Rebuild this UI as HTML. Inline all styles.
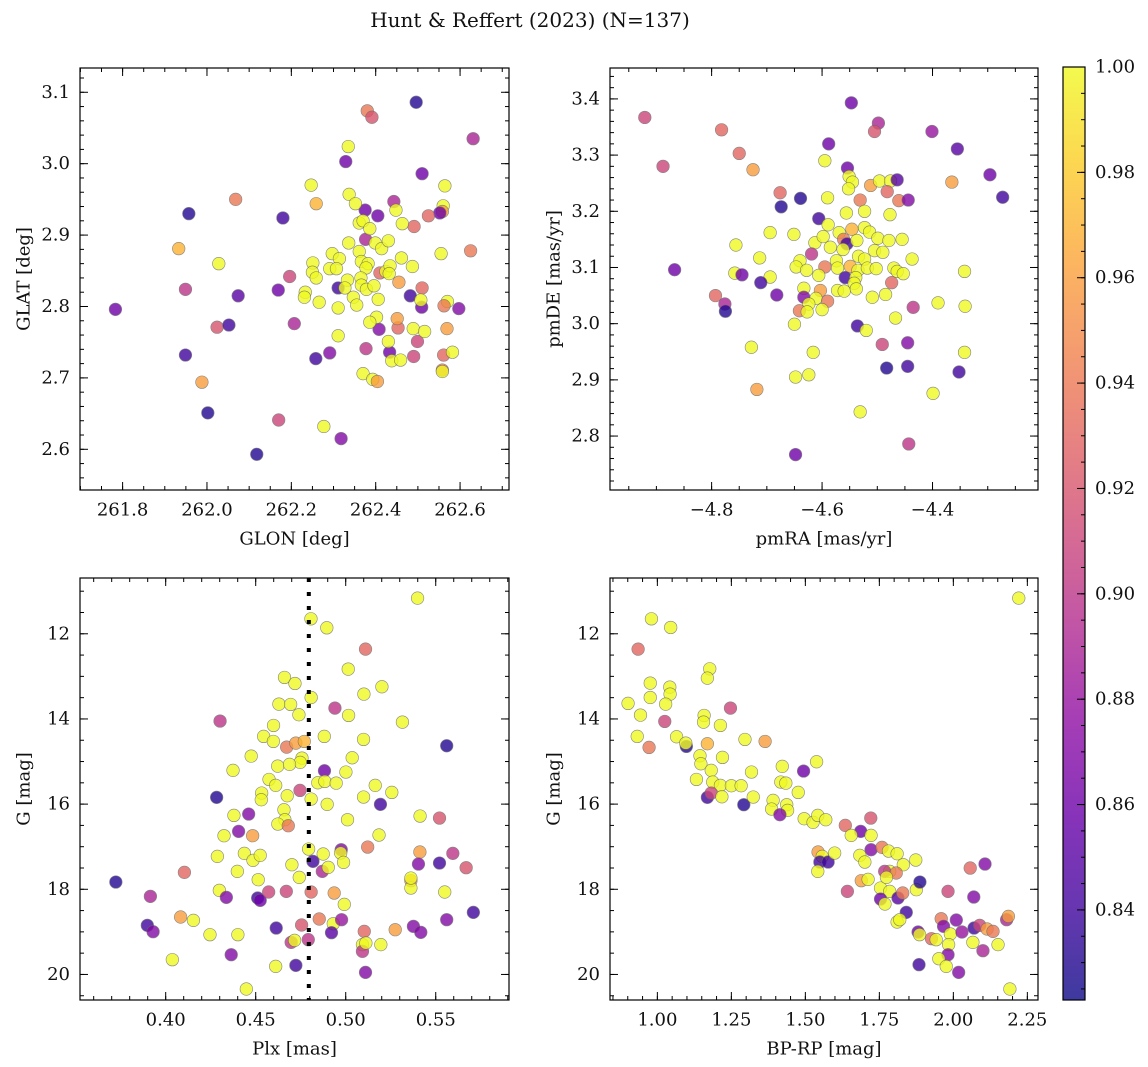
<!DOCTYPE html>
<html><head><meta charset="utf-8"><style>
html,body{margin:0;padding:0;background:#fff;}
svg{display:block;font-family:"DejaVu Serif","Liberation Serif",serif;}
</style></head><body>
<svg id="fig" width="1148" height="1067" viewBox="0 0 1148 1067" xmlns="http://www.w3.org/2000/svg">
<rect width="1148" height="1067" fill="#fff"/>
<text x="530" y="20" font-size="20" text-anchor="middle" dominant-baseline="central" fill="#111">Hunt &amp; Reffert (2023) (N=137)</text>
</svg>
<script>
// ---------- DATA ----------
const tlGlon=[261.783,261.957,261.933,261.949,262.028,262.068,262.074,262.024,262.052,261.949,261.988,262.002,262.118,262.170,262.180,262.169,262.196,262.207,262.258,262.291,262.277,262.318,262.247,262.259,262.266,262.311,262.311,262.329,262.335,262.380,262.391,262.496,262.631,262.510,262.564,262.560,262.558,262.552,262.525,262.491,262.625,262.555,262.510,262.482,262.509,262.507,262.570,262.562,262.597,262.569,262.499,262.490,262.561,262.582,262.558,262.558,262.443,262.448,262.463,262.405,262.375,262.376,262.433,262.438,262.459,262.377,262.370,262.393,262.404,262.430,262.408,262.453,262.451,262.489,262.516,262.455,262.410,262.311,
262.337,262.352,262.361,262.370,262.386,262.336,262.297,262.314,262.291,262.307,262.251,262.250,262.259,262.233,262.231,262.333,262.327,262.347,262.355,262.361,262.366,262.382,262.377,262.365,262.366,262.378,262.396,262.406,262.402,262.386,262.399,262.414,262.430,262.424,262.434,262.432,262.461,262.487];
const tlGlat=[2.796,2.930,2.881,2.824,2.860,2.950,2.815,2.771,2.774,2.732,2.694,2.651,2.593,2.641,2.924,2.823,2.842,2.776,2.727,2.735,2.632,2.615,2.970,2.944,2.806,2.798,2.759,3.003,3.024,3.074,3.065,3.086,3.035,2.986,2.969,2.941,2.933,2.931,2.927,2.912,2.878,2.874,2.826,2.815,2.799,2.809,2.807,2.801,2.797,2.769,2.751,2.730,2.732,2.736,2.711,2.709,2.947,2.935,2.916,2.927,2.935,2.894,2.736,2.724,2.725,2.741,2.706,2.698,2.695,2.751,2.768,2.770,2.783,2.769,2.765,2.834,2.847,2.826,
2.957,2.944,2.917,2.920,2.909,2.889,2.874,2.867,2.853,2.853,2.861,2.848,2.840,2.820,2.813,2.837,2.826,2.813,2.802,2.877,2.863,2.860,2.854,2.840,2.830,2.824,2.829,2.810,2.785,2.778,2.889,2.881,2.892,2.849,2.857,2.846,2.868,2.856];
const tlProb=[.86,.83,.97,.90,1,.94,.85,.92,.84,.84,.96,.83,.83,.91,.84,.86,.91,.89,.84,.87,1,.87,1,.97,1,1,1,.86,1,.94,.92,.83,.89,.86,1,1,.96,.86,.93,.93,.94,1,.93,.84,.86,1,1,.94,.87,.96,.91,.91,.93,1,.94,1,.89,1,1,.86,.86,.89,.86,1,1,.90,1,1,.96,1,.87,.93,.96,1,1,.96,.93,.84,
1,1,1,1,1,1,1,1,1,1,1,1,1,1,1,1,1,1,1,1,1,1,1,1,1,1,1,1,1,1,1,1,1,1,1,1,1,1];

const trPmra=[-4.921,-4.888,-4.867,-4.782,-4.750,-4.725,-4.676,-4.639,-4.674,-4.756,-4.713,-4.758,-4.745,-4.694,-4.694,-4.711,-4.682,-4.793,-4.776,-4.775,-4.728,-4.718,-4.651,-4.650,-4.648,-4.624,-4.616,-4.648,-4.588,-4.595,-4.590,-4.606,-4.547,-4.498,-4.505,-4.554,-4.551,-4.545,-4.552,-4.512,-4.496,-4.476,-4.464,-4.482,-4.531,-4.461,-4.444,-4.401,-4.355,-4.365,-4.296,-4.273,-4.556,-4.523,-4.477,-4.589,-4.569,-4.546,-4.523,-4.514,-4.499,-4.479,-4.455,-4.613,-4.598,-4.585,-4.561,-4.555,-4.537,-4.562,-4.619,-4.505,-4.490,-4.534,-4.523,-4.437,-4.640,-4.574,-4.647,-4.628,-4.595,-4.572,-4.549,-4.535,-4.518,-4.502,-4.470,-4.464,-4.453,-4.606,-4.558,-4.539,-4.542,-4.342,-4.633,-4.633,-4.603,-4.611,-4.590,-4.572,-4.560,-4.538,-4.624,-4.641,-4.627,-4.600,-4.509,-4.485,-4.474,-4.467,-4.435,-4.390,-4.341,-4.536,-4.520,-4.491,-4.445,-4.483,-4.445,-4.352,-4.342,-4.399,-4.531,-4.443];
const trPmde=[3.367,3.280,3.096,3.345,3.303,3.274,3.233,3.223,3.208,3.140,3.117,3.090,3.087,3.162,3.083,3.073,3.051,3.050,3.035,3.022,2.958,2.883,3.159,2.999,2.905,2.909,2.949,2.767,3.320,3.290,3.224,3.187,3.393,3.357,3.342,3.277,3.262,3.252,3.240,3.246,3.254,3.254,3.256,3.235,3.220,3.219,3.220,3.342,3.311,3.252,3.265,3.225,3.197,3.200,3.194,3.176,3.162,3.168,3.171,3.163,3.152,3.148,3.150,3.144,3.155,3.136,3.150,3.142,3.148,3.132,3.124,3.130,3.127,3.120,3.115,3.115,3.112,3.112,3.101,3.095,3.101,3.099,3.102,3.095,3.099,3.098,3.099,3.093,3.089,3.086,3.082,3.082,3.072,3.093,3.063,3.047,3.059,3.045,3.040,3.059,3.058,3.062,3.035,3.023,3.021,3.025,3.047,3.052,3.073,3.010,3.029,3.037,3.031,2.996,2.988,2.963,2.966,2.921,2.924,2.914,2.949,2.876,2.843,2.786];
const trProb=[.91,.91,.86,.93,.93,.96,.93,.83,.83,1,1,1,.86,1,1,.84,.86,.93,.89,.83,1,.96,1,1,1,1,1,.86,.86,1,1,.84,.86,.89,.92,.86,1,1,1,.96,1,1,.85,.93,.94,.94,.87,.88,.85,.96,.86,.84,1,1,1,1,1,.97,1,1,1,1,1,1,1,1,.94,.84,1,1,.90,1,1,1,1,1,1,1,1,1,.94,1,.97,1,1,1,1,1,1,1,.84,1,1,1,1,.87,.96,1,.94,1,1,1,1,.94,1,1,1,1,.93,1,.90,1,1,.84,1,.91,.87,.83,.84,.84,1,1,1,.90];

const blPlx=[.5399,.4807,.4895,.5110,.5014,.4660,.4718,.5201,.5101,.4808,.4629,.4694,.4940,.4740,.5016,.4302,.5315,.4599,.4544,.4598,.4881,.5099,.4672,.4723,.4770,.5561,.4475,.4757,.4747,.4622,.4688,.4374,.5036,.4882,.5001,.4574,.4611,.4845,.4884,.4947,.5164,.5256,.4533,.4531,.4746,.4675,.4808,.4283,.5099,.5193,.4897,.4379,.4461,.4657,.4662,.4623,.4681,.5010,.5413,.5521,.4405,.4324,.4483,.5185,.4287,.4437,.4485,.4525,.4794,.4875,.4975,.4972,.5122,.5412,.5595,.4818,.4701,.4870,.4903,.4988,.5404,.5521,.5669,.4104,.4398,.4742,.4514,.3723,.5362,.5362,.5362,.3915,.4298,.4337,.4511,.4525,.4572,.4670,.4808,.4936,.4992,.5550,.5709,.4083,.4154,.3898,.3930,.4246,.4401,.4614,.4755,.4853,.4931,.4977,.4921,.5103,.5093,.5093,.5112,.5195,.5275,.5376,.5417,.5561,.4697,.4716,.4792,.4364,.4037,.4611,.4723,.5110,.4448];
const blG=[11.163,11.648,11.859,12.360,12.829,13.025,13.166,13.244,13.416,13.495,13.651,13.659,13.745,13.901,13.917,14.050,14.074,14.152,14.410,14.528,14.410,14.481,14.661,14.567,14.528,14.629,14.872,14.919,15.020,15.107,15.067,15.208,14.911,15.216,15.247,15.420,15.560,15.498,15.467,15.506,15.560,15.725,15.740,15.897,15.678,15.803,15.881,15.842,15.834,16.006,16.006,16.265,16.233,16.132,16.366,16.468,16.507,16.366,16.280,16.327,16.640,16.742,16.742,16.726,17.227,17.157,17.321,17.204,17.055,17.172,17.071,17.149,17.008,17.125,17.157,17.344,17.423,17.579,17.485,17.368,17.407,17.384,17.493,17.603,17.579,17.720,17.775,17.830,17.798,17.971,17.736,18.166,18.025,18.190,18.205,18.260,18.064,18.049,18.064,18.088,18.354,18.064,18.542,18.651,18.730,18.847,18.996,19.066,19.066,18.910,18.839,18.698,18.808,18.714,19.019,18.988,19.300,19.457,19.262,19.300,18.949,18.870,19.011,18.714,19.246,19.199,19.183,19.536,19.653,19.810,19.786,19.951,20.342];
const blProb=[1,1,1,.93,1,1,1,1,1,1,1,1,.90,1,1,.90,1,1,1,1,1,1,.94,.96,.97,.83,1,1,1,1,1,1,1,.86,1,1,1,1,1,1,1,1,1,1,.91,1,1,.83,1,.84,1,1,.87,1,1,1,.94,1,1,.92,.87,1,.96,1,1,1,1,1,1,1,.87,1,.94,.96,.90,.84,1,.89,1,1,.87,.84,.92,.93,1,1,1,.83,.96,1,1,.89,1,.87,.84,.86,.91,.91,.93,.96,1,1,.84,.96,1,.84,.87,1,1,.84,.92,.94,1,.88,.85,.93,1,.90,1,1,.96,.87,.87,.87,.90,1,.90,.87,1,1,.84,.87,1];
const blCut=[0.4795];

const brBprp=[2.221,.980,1.045,.935,1.177,1.169,.976,1.042,1.043,.976,1.028,.901,1.247,.943,1.158,1.156,1.025,1.213,.932,1.296,1.364,.972,1.065,1.098,1.096,1.169,1.144,1.147,1.220,1.422,1.538,1.318,1.494,1.182,1.132,1.187,1.213,1.250,1.283,1.169,1.182,1.218,1.292,1.324,1.417,1.434,1.476,1.391,1.437,1.386,1.440,1.414,1.496,1.526,1.542,1.569,1.635,1.721,1.687,1.655,1.722,1.722,1.759,1.543,1.557,1.549,1.577,1.599,1.542,1.684,1.701,1.781,1.810,1.831,1.873,1.785,1.768,1.807,1.689,1.712,1.642,1.754,1.774,1.785,1.754,1.769,1.813,1.829,1.875,1.887,1.841,1.810,1.819,1.982,2.057,2.107,2.069,1.881,1.886,1.926,1.942,1.959,1.967,2.010,1.990,1.984,1.982,2.029,2.070,2.089,2.114,2.134,2.066,2.100,2.151,2.180,2.186,1.951,1.976,1.884,2.018,2.191];
const brG=[11.163,11.648,11.851,12.360,12.822,13.041,13.158,13.252,13.416,13.495,13.651,13.635,13.745,13.909,13.917,14.074,14.058,14.152,14.410,14.481,14.528,14.668,14.418,14.645,14.567,14.582,14.864,15.052,14.903,15.114,15.005,15.247,15.224,15.208,15.420,15.482,15.560,15.568,15.568,15.842,15.740,15.827,16.014,15.834,15.482,15.506,15.725,15.912,16.014,16.116,16.147,16.249,16.343,16.429,16.265,16.366,16.499,16.327,16.640,16.734,16.734,17.071,17.016,17.125,17.227,17.360,17.360,17.149,17.579,17.204,17.360,17.102,17.165,17.423,17.313,17.579,17.579,17.618,17.798,17.767,18.049,17.971,17.720,18.049,18.229,18.346,18.205,18.088,18.010,17.830,18.542,18.768,18.714,18.049,17.501,17.407,18.182,19.003,19.066,19.160,19.183,18.691,18.870,18.722,19.050,19.300,19.536,19.003,18.910,18.847,18.933,18.988,19.246,19.442,19.300,18.714,18.636,19.630,19.810,19.770,19.951,20.342];
const brProb=[1,1,1,.93,1,1,1,1,1,1,1,1,.91,1,1,1,.91,1,1,1,.96,.94,1,.83,1,.97,1,1,1,1,1,1,.86,1,1,1,1,1,1,.84,.91,1,.83,1,1,1,1,1,1,1,1,.87,1,1,1,1,.93,.92,.86,1,1,.87,.94,.96,1,.84,.84,1,1,1,1,1,1,1,1,1,.90,.94,.96,1,.91,1,1,1,.86,1,.85,.94,1,.83,.84,1,1,.91,.93,.87,.87,.86,1,.93,1,.94,.87,.87,1,1,.87,.88,.84,.91,.96,.94,1,.89,1,.89,.96,1,1,.84,.87,1];

// colorbar tick values
const cbTicks=[0.84,0.86,0.88,0.90,0.92,0.94,0.96,0.98,1.00];
const vMin=0.8229, vMax=1.0;

// ---------- HELPERS ----------
const NS="http://www.w3.org/2000/svg";
const svg=document.getElementById('fig');
const FS=18;
function el(tag,attrs,parent){const e=document.createElementNS(NS,tag);for(const k in attrs)e.setAttribute(k,attrs[k]);(parent||svg).appendChild(e);return e;}
const stops=[[0,[13,8,135]],[0.1,[65,4,157]],[0.2,[106,0,168]],[0.3,[143,13,164]],[0.4,[177,42,144]],[0.5,[204,71,120]],[0.6,[225,100,98]],[0.7,[242,132,75]],[0.8,[252,166,54]],[0.9,[252,206,37]],[1,[240,249,33]]];
function plasma(t){t=Math.max(0,Math.min(1,t));for(let i=1;i<stops.length;i++){if(t<=stops[i][0]){const a=stops[i-1],b=stops[i];const f=(t-a[0])/(b[0]-a[0]);const c=a[1].map((v,j)=>Math.round(v+(b[1][j]-v)*f));return `rgb(${c[0]},${c[1]},${c[2]})`;}}return 'rgb(240,249,33)';}
function fmt(v,d){const s=Math.abs(v).toFixed(d);return (v<-1e-9?'\u2212':'')+s;}

function panel(o){
  const g=el('g',{});
  
  
  const sx=v=>o.x0+(v-o.xmin)/(o.xmax-o.xmin)*o.w;
  const sy=o.inv?(v=>o.y0+(v-o.ymin)/(o.ymax-o.ymin)*o.h):(v=>o.y0+o.h-(v-o.ymin)/(o.ymax-o.ymin)*o.h);
  const clip='clip-'+o.name;
  const cp=el('clipPath',{id:clip},g);el('rect',{x:o.x0,y:o.y0,width:o.w,height:o.h},cp);
  const pts=el('g',{'clip-path':`url(#${clip})`},g);
  
  
  const n=Math.min(o.xs.length,o.ys.length,o.ps.length);
  for(let i=0;i<n;i++){
    const c=el('circle',{cx:sx(o.xs[i]).toFixed(2),cy:sy(o.ys[i]).toFixed(2),r:6.3,fill:plasma((o.ps[i]-vMin)/(vMax-vMin)),stroke:'#666','stroke-width':0.6,opacity:0.8},pts);
    
    
  }
  if(o.vline){for(const v of o.vline){const l=el('line',{x1:sx(v),x2:sx(v),y1:o.y0,y2:o.y0+o.h,stroke:'#000','stroke-width':4,'stroke-dasharray':'4 10'},g);
    
    }}
  const fr=el('rect',{x:o.x0,y:o.y0,width:o.w,height:o.h,fill:'none',stroke:'#000','stroke-width':1.2},g);
  
  
  const tk=el('g',{stroke:'#000','stroke-width':1},g);
  const B=o.y0+o.h,R=o.x0+o.w;
  const xs0=Math.ceil(o.xmin/o.xminor-1e-6),xs1=Math.floor(o.xmax/o.xminor+1e-6);
  for(let k=xs0;k<=xs1;k++){const X=sx(k*o.xminor);el('line',{x1:X,x2:X,y1:B,y2:B-4},tk);el('line',{x1:X,x2:X,y1:o.y0,y2:o.y0+4},tk);}
  const ys0=Math.ceil(o.ymin/o.yminor-1e-6),ys1=Math.floor(o.ymax/o.yminor+1e-6);
  for(let k=ys0;k<=ys1;k++){const Y=sy(k*o.yminor);el('line',{x1:o.x0,x2:o.x0+4,y1:Y,y2:Y},tk);el('line',{x1:R,x2:R-4,y1:Y,y2:Y},tk);}
  for(const v of o.xticks){const X=sx(v);el('line',{x1:X,x2:X,y1:B,y2:B-8},tk);el('line',{x1:X,x2:X,y1:o.y0,y2:o.y0+8},tk);
    const t=el('text',{x:X,y:B+20,'font-size':FS,'text-anchor':'middle','dominant-baseline':'central',fill:'#111'},g);t.textContent=fmt(v,o.xd);
    
    }
  for(const v of o.yticks){const Y=sy(v);el('line',{x1:o.x0,x2:o.x0+8,y1:Y,y2:Y},tk);el('line',{x1:R,x2:R-8,y1:Y,y2:Y},tk);
    const t=el('text',{x:o.x0-10,y:Y,'font-size':FS,'text-anchor':'end','dominant-baseline':'central',fill:'#111'},g);t.textContent=fmt(v,o.yd);
    
    }
  const xl=el('text',{x:o.x0+o.w/2,y:B+49,'font-size':FS,'text-anchor':'middle','dominant-baseline':'central',fill:'#111'},g);xl.textContent=o.xlabel;
  
  
  const yx=o.x0-56,yy=o.y0+o.h/2;
  const yl=el('text',{x:yx,y:yy,'font-size':FS,'text-anchor':'middle','dominant-baseline':'central',fill:'#111',transform:`rotate(-90 ${yx} ${yy})`},g);yl.textContent=o.ylabel;
  
  
}

// tick value arrays
const tlXT=[261.8,262.0,262.2,262.4,262.6], tlYT=[2.6,2.7,2.8,2.9,3.0,3.1];
const trXT=[-4.8,-4.6,-4.4], trYT=[2.8,2.9,3.0,3.1,3.2,3.3,3.4];
const blXT=[0.40,0.45,0.50,0.55], gYT=[12,14,16,18,20];
const brXT=[1.00,1.25,1.50,1.75,2.00,2.25];

panel({name:'glon-glat-panel',x0:80,y0:68,w:429,h:422,xmin:261.699,xmax:262.716,ymin:2.543,ymax:3.134,inv:false,xs:tlGlon,ys:tlGlat,ps:tlProb,xticks:tlXT,yticks:tlYT,xminor:0.05,yminor:0.02,xd:1,yd:1,xlabel:'GLON [deg]',ylabel:'GLAT [deg]'});
panel({name:'proper-motion-panel',x0:610,y0:68,w:428,h:422,xmin:-4.984,xmax:-4.209,ymin:2.704,ymax:3.455,inv:false,xs:trPmra,ys:trPmde,ps:trProb,xticks:trXT,yticks:trYT,xminor:0.05,yminor:0.02,xd:1,yd:1,xlabel:'pmRA [mas/yr]',ylabel:'pmDE [mas/yr]'});
panel({name:'parallax-mag-panel',x0:80,y0:578,w:429,h:422,xmin:0.3524,xmax:0.5907,ymin:10.69,ymax:20.60,inv:true,xs:blPlx,ys:blG,ps:blProb,xticks:blXT,yticks:gYT,xminor:0.01,yminor:0.5,xd:2,yd:0,xlabel:'Plx [mas]',ylabel:'G [mag]',vline:blCut});
panel({name:'color-magnitude-panel',x0:610,y0:578,w:428,h:422,xmin:0.840,xmax:2.286,ymin:10.69,ymax:20.60,inv:true,xs:brBprp,ys:brG,ps:brProb,xticks:brXT,yticks:gYT,xminor:0.05,yminor:0.5,xd:2,yd:0,xlabel:'BP-RP [mag]',ylabel:'G [mag]'});

// ---------- COLORBAR ----------
(function(){
  const x0=1063,y0=67,w=22,h=933;
  const g=el('g',{});
  
  
  const defs=el('defs',{},g);
  const lg=el('linearGradient',{id:'cbgrad',x1:0,y1:1,x2:0,y2:0},defs);
  for(let i=0;i<=20;i++){el('stop',{offset:i/20,'stop-color':plasma(i/20),'stop-opacity':0.8},lg);}
  el('rect',{x:x0,y:y0,width:w,height:h,fill:'url(#cbgrad)'},g);
  el('rect',{x:x0,y:y0,width:w,height:h,fill:'none',stroke:'#000','stroke-width':1.2},g);
  const sy=v=>y0+h-(v-vMin)/(vMax-vMin)*h;
  for(let k=Math.ceil(vMin/0.005);k<=Math.floor(vMax/0.005+1e-6);k++){const Y=sy(k*0.005);el('line',{x1:x0+w,x2:x0+w-4,y1:Y,y2:Y,stroke:'#000','stroke-width':1},g);}
  for(const v of cbTicks){const Y=sy(v);el('line',{x1:x0+w,x2:x0+w-8,y1:Y,y2:Y,stroke:'#000','stroke-width':1},g);
    const t=el('text',{x:x0+w+10,y:Y,'font-size':FS,'dominant-baseline':'central',fill:'#111'},g);t.textContent=v.toFixed(2);
    
    }
})();
</script>
</body></html>
